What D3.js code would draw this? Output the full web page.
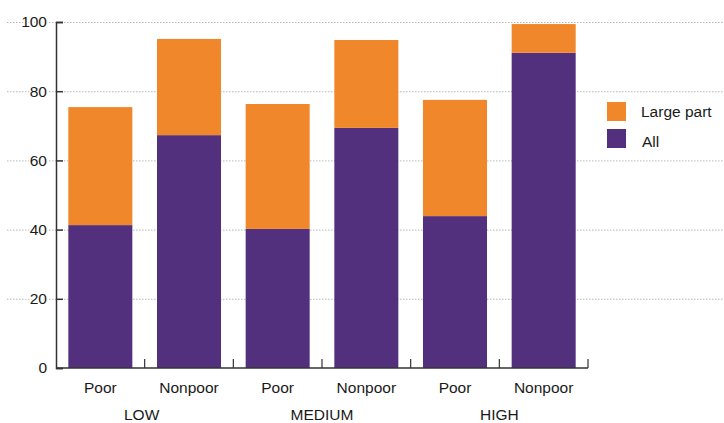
<!DOCTYPE html>
<html><head><meta charset="utf-8">
<script src="https://cdn.jsdelivr.net/npm/d3@7"></script>
<style>body{margin:0;background:#fff}svg{display:block;font-family:"Liberation Sans",Arial,Helvetica,sans-serif}</style>
</head><body><svg id="c" width="724" height="423"></svg>
<script>
const groups = ["LOW", "MEDIUM", "HIGH"];
const subgroups = ["Poor", "Nonpoor"];
const allValues = [41.3, 67.3, 40.2, 69.4, 43.9, 91.1];
const largePartValues = [34.1, 27.8, 36.1, 25.4, 33.6, 8.3];
const yTicks = [0, 20, 40, 60, 80, 100];
const seriesNames = ["Large part", "All"];
const colors = {"Large part": "#F0872A", "All": "#52307E"};

const svg = d3.select("#c");
const M = {left: 56, right: 588, top: 22, bottom: 368};
const cats = [];
groups.forEach(g => subgroups.forEach(s => cats.push(g + "|" + s)));
const rows = cats.map((c, i) => ({key: c, All: allValues[i], "Large part": largePartValues[i]}));

const x = d3.scaleBand().domain(cats).range([M.left, M.right]).paddingInner(0.278).paddingOuter(0.139);
const y = d3.scaleLinear().domain([0, 100]).range([M.bottom, M.top]);

// gridlines
svg.append("g").selectAll("line").data(yTicks.filter(t => t > 0)).join("line")
  .attr("x1", 7).attr("x2", 724).attr("y1", d => y(d) + 0.5).attr("y2", d => y(d) + 0.5)
  .attr("stroke", "#b8b8b8").attr("stroke-width", 1).attr("stroke-dasharray", "1.5,1.5");

// stacked bars
const stack = d3.stack().keys(["All", "Large part"])(rows);
svg.append("g").selectAll("g").data(stack).join("g")
  .attr("fill", d => colors[d.key])
  .selectAll("rect").data(d => d).join("rect")
  .attr("x", d => x(d.data.key)).attr("width", x.bandwidth())
  .attr("y", d => y(d[1])).attr("height", d => y(d[0]) - y(d[1]));

// y axis
const ya = svg.append("g").attr("transform", `translate(${M.left},0)`)
  .call(d3.axisRight(y).tickValues(yTicks).tickSize(7).tickFormat(""));
ya.select(".domain").attr("stroke", "#333").attr("stroke-width", 1.5);
ya.selectAll(".tick line").attr("stroke", "#333").attr("stroke-width", 1.5);
svg.append("g").selectAll("text").data(yTicks).join("text")
  .attr("x", 47).attr("y", d => y(d)).attr("dy", "0.35em").attr("text-anchor", "end")
  .attr("font-size", 15.5).attr("fill", "#1a1a1a")
  .attr("stroke", "#fff").attr("stroke-width", 3).attr("paint-order", "stroke")
  .text(d => d);

// x axis
const bounds = d3.range(cats.length + 1).map(i => M.left + i * (M.right - M.left) / cats.length);
const xa = svg.append("g");
xa.append("line").attr("x1", M.left).attr("x2", M.right).attr("y1", M.bottom).attr("y2", M.bottom)
  .attr("stroke", "#333").attr("stroke-width", 1.5);
xa.selectAll("line.t").data(bounds.slice(1)).join("line").attr("class", "t")
  .attr("x1", d => d).attr("x2", d => d).attr("y1", M.bottom).attr("y2", M.bottom - 9)
  .attr("stroke", "#333").attr("stroke-width", 1.2);
xa.selectAll("text.sub").data(cats).join("text").attr("class", "sub")
  .attr("x", d => x(d) + x.bandwidth() / 2).attr("y", 393).attr("text-anchor", "middle")
  .attr("font-size", 15.5).attr("fill", "#1a1a1a").text(d => d.split("|")[1]);
xa.selectAll("text.grp").data(groups).join("text").attr("class", "grp")
  .attr("x", (d, i) => (x(d + "|Poor") + x(d + "|Nonpoor") + x.bandwidth()) / 2 - (i === 0 ? 3 : 0)).attr("y", 420)
  .attr("text-anchor", "middle").attr("font-size", 15.5).attr("fill", "#1a1a1a").text(d => d);

// legend
const lg = svg.append("g").attr("transform", "translate(607,102)");
seriesNames.forEach((s, i) => {
  lg.append("rect").attr("x", 0).attr("y", i * 27).attr("width", 19).attr("height", 19).attr("fill", colors[s]);
  lg.append("text").attr("x", s === "All" ? 35 : 34).attr("y", i * 27 + (s === "All" ? 12.5 : 10)).attr("dy", "0.35em")
    .attr("font-size", 15.5).attr("fill", "#1a1a1a").text(s);
});
</script></body></html>
